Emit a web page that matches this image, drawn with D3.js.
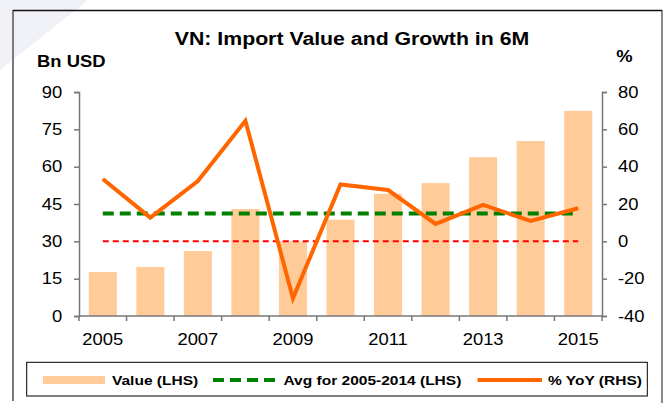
<!DOCTYPE html>
<html>
<head>
<meta charset="utf-8">
<script src="https://cdn.jsdelivr.net/npm/d3@7"></script>
<style>
  body { margin: 0; background: #fff; }
  svg { display: block; font-family: "Liberation Sans", Arial, sans-serif; }
</style>
</head>
<body>
<div id="chart"></div>
<script>
// Data
const years = [2005, 2006, 2007, 2008, 2009, 2010, 2011, 2012, 2013, 2014, 2015];
const importValue = [17.7, 19.7, 26.1, 43.0, 30.0, 38.7, 49.1, 53.4, 63.8, 70.3, 82.4];
const yoyGrowth = [33.4, 12.7, 32.3, 64.6, -30.5, 30.5, 27.5, 9.3, 19.5, 10.9, 17.7];
const avgLevel = 41.2;   // avg 2005-2014, LHS
const zeroLevel = 0;     // RHS reference line
const leftTicks = [0, 15, 30, 45, 60, 75, 90];
const rightTicks = [-40, -20, 0, 20, 40, 60, 80];
const labelYears = [2005, 2007, 2009, 2011, 2013, 2015];

const width = 668, height = 403;
const sx = 1.15; // text is stretched horizontally in the original

const svg = d3.select("#chart").append("svg")
    .attr("width", width)
    .attr("height", height);

// faint slide background in the corner
svg.append("path")
    .attr("d", "M0,0 L88,0 L0,70 Z")
    .attr("fill", "#f0f1f7");

// outer frame
svg.append("line").attr("x1", 13).attr("x2", 13).attr("y1", 10).attr("y2", 401)
    .attr("stroke", "#7a7a7a").attr("stroke-width", 2);
svg.append("line").attr("x1", 662).attr("x2", 662).attr("y1", 10).attr("y2", 403)
    .attr("stroke", "#8a8a8a").attr("stroke-width", 2);
svg.append("line").attr("x1", 13).attr("x2", 662).attr("y1", 10.5).attr("y2", 10.5)
    .attr("stroke", "#111").attr("stroke-width", 1.5);

const plot = { left: 79, right: 602, top: 92, bottom: 316 };

const x = d3.scaleBand()
    .domain(years)
    .range([plot.left, plot.right])
    .paddingInner(0.41)
    .paddingOuter(0.205);

const yL = d3.scaleLinear().domain([0, 90]).range([plot.bottom, plot.top]);
const yR = d3.scaleLinear().domain([-40, 80]).range([plot.bottom, plot.top]);

const cx = d => x(d) + x.bandwidth() / 2;

// title and axis captions
function stretched(sel, px, py) {
    return sel.attr("transform", `translate(${px},${py}) scale(${sx},1)`);
}
stretched(svg.append("text"), 352, 45)
    .attr("text-anchor", "middle")
    .attr("font-size", 18.5)
    .attr("font-weight", "bold")
    .text("VN: Import Value and Growth in 6M");
stretched(svg.append("text"), 37, 66.5)
    .attr("font-size", 16)
    .attr("font-weight", "bold")
    .text("Bn USD");
stretched(svg.append("text"), 624.5, 61.5)
    .attr("text-anchor", "middle")
    .attr("font-size", 16)
    .attr("font-weight", "bold")
    .text("%");

// bars
svg.append("g").selectAll("rect")
    .data(years)
    .join("rect")
    .attr("x", d => x(d))
    .attr("width", x.bandwidth())
    .attr("y", (d, i) => yL(importValue[i]))
    .attr("height", (d, i) => yL(0) - yL(importValue[i]))
    .attr("fill", "#ffcc99");

// reference lines
svg.append("line")
    .attr("x1", cx(years[0])).attr("x2", cx(years[years.length - 1]))
    .attr("y1", yR(zeroLevel)).attr("y2", yR(zeroLevel))
    .attr("stroke", "#ff0000").attr("stroke-width", 2)
    .attr("stroke-dasharray", "6,4");

svg.append("line")
    .attr("x1", cx(years[0])).attr("x2", cx(years[years.length - 1]))
    .attr("y1", yL(avgLevel)).attr("y2", yL(avgLevel))
    .attr("stroke", "#008000").attr("stroke-width", 4)
    .attr("stroke-dasharray", "11,6");

// YoY line
const line = d3.line()
    .x((d, i) => cx(years[i]))
    .y(d => yR(d));
svg.append("path")
    .datum(yoyGrowth)
    .attr("d", line)
    .attr("fill", "none")
    .attr("stroke", "#ff6600")
    .attr("stroke-width", 4)
    .attr("stroke-linejoin", "miter");

// axes
const axisColor = "#777";
const plain = d => String(d); // hyphen minus, as in the original

const leftAxis = svg.append("g")
    .attr("transform", `translate(${plot.left},0)`)
    .call(d3.axisLeft(yL).tickValues(leftTicks).tickFormat(plain).tickSize(5).tickPadding(9.5));

const rightAxis = svg.append("g")
    .attr("transform", `translate(${plot.right},0)`)
    .call(d3.axisRight(yR).tickValues(rightTicks).tickFormat(plain).tickSize(5).tickPadding(8.9));

// x axis line with ticks at category boundaries
const step = x.step();
const bounds = years.map(d => x(d) - step * x.paddingInner() / 2).concat([plot.right]);
const xAxis = svg.append("g");
xAxis.append("line")
    .attr("x1", plot.left).attr("x2", plot.right)
    .attr("y1", plot.bottom).attr("y2", plot.bottom);
xAxis.selectAll("line.tick")
    .data(bounds)
    .join("line")
    .attr("class", "tick")
    .attr("x1", d => d).attr("x2", d => d)
    .attr("y1", plot.bottom).attr("y2", plot.bottom + 5);
xAxis.selectAll("line").attr("stroke", axisColor).attr("stroke-width", 1.5);

xAxis.selectAll("text")
    .data(labelYears)
    .join("text")
    .attr("transform", d => `translate(${cx(d)},345) scale(${sx},1)`)
    .attr("text-anchor", "middle")
    .attr("font-size", 16)
    .text(d => d);

[leftAxis, rightAxis].forEach(ax => {
    ax.select(".domain").attr("stroke", axisColor).attr("stroke-width", 1.5);
    ax.selectAll(".tick line").attr("stroke", axisColor).attr("stroke-width", 1.5);
    ax.selectAll(".tick text")
        .attr("font-size", 16)
        .attr("font-family", "Liberation Sans, Arial, sans-serif")
        .attr("fill", "#000")
        .attr("transform", `scale(${sx},1)`);
});

// legend
const legend = svg.append("g");
legend.append("rect")
    .attr("x", 26.7).attr("y", 362.3)
    .attr("width", 620.6).attr("height", 33.7)
    .attr("fill", "#fff").attr("stroke", "#000").attr("stroke-width", 1);

const ly = 380;
legend.append("rect")
    .attr("x", 43).attr("y", ly - 4).attr("width", 62).attr("height", 8)
    .attr("fill", "#ffcc99");
legend.append("line")
    .attr("x1", 213).attr("x2", 278).attr("y1", ly).attr("y2", ly)
    .attr("stroke", "#008000").attr("stroke-width", 4)
    .attr("stroke-dasharray", "11,6");
legend.append("line")
    .attr("x1", 477.5).attr("x2", 542).attr("y1", ly).attr("y2", ly)
    .attr("stroke", "#ff6600").attr("stroke-width", 4);

const legendItems = [
    { label: "Value (LHS)", at: 112 },
    { label: "Avg for 2005-2014 (LHS)", at: 283.5 },
    { label: "% YoY (RHS)", at: 548 }
];
legend.selectAll("text")
    .data(legendItems)
    .join("text")
    .attr("transform", d => `translate(${d.at},${ly + 5}) scale(${sx},1)`)
    .attr("font-size", 13.5)
    .attr("font-weight", "bold")
    .text(d => d.label);
</script>
</body>
</html>
